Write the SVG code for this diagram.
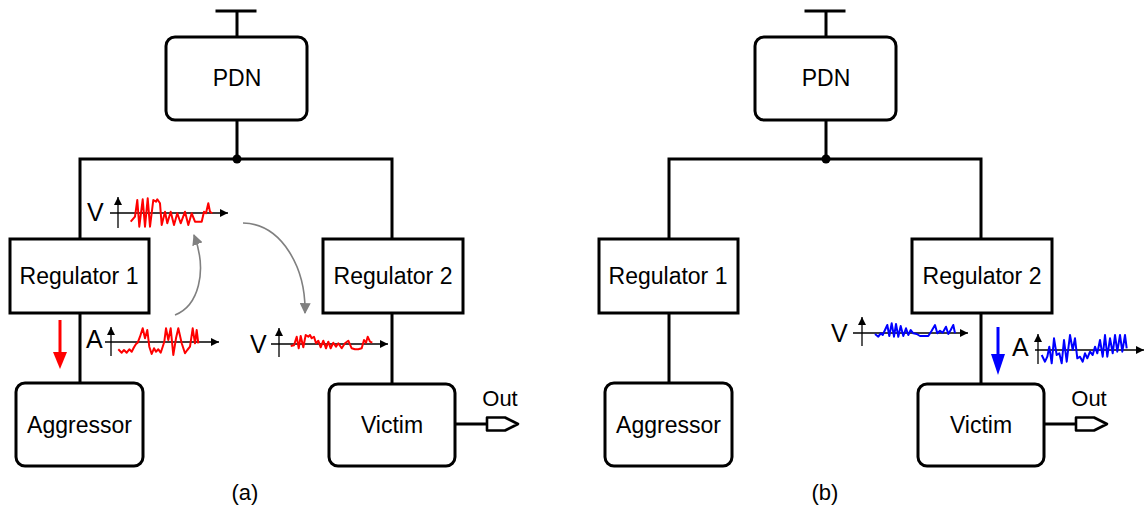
<svg xmlns="http://www.w3.org/2000/svg" width="1145" height="511" viewBox="0 0 1145 511">
  <style>
    .wire { fill: none; stroke: #000; stroke-width: 3; stroke-linecap: square; }
    .box { fill: #fff; stroke: #000; stroke-width: 3; }
    .lbl { font-family: "Liberation Sans", Arial, sans-serif; font-size: 23px; fill: #000; text-anchor: middle; }
    .sig { font-family: "Liberation Sans", Arial, sans-serif; font-size: 25px; fill: #000; }
    .cap { font-family: "Liberation Sans", Arial, sans-serif; font-size: 22px; fill: #000; text-anchor: middle; }
    .axis { fill: none; stroke: #000; stroke-width: 1.3; }
    .red { fill: none; stroke: #ff0000; stroke-width: 2; stroke-linejoin: round; }
    .blue { fill: none; stroke: #0000ff; stroke-width: 2; stroke-linejoin: round; }
    .flow { fill: none; stroke: #808080; stroke-width: 1.6; }
  </style>
  <defs>
    <marker id="axHead" viewBox="0 0 10 10" refX="10" refY="5" markerWidth="8" markerHeight="8" markerUnits="userSpaceOnUse" orient="auto">
      <path d="M0,0 L10,5 L0,10 Z" fill="#000"/>
    </marker>
    <marker id="flowHead" viewBox="0 0 10 10" refX="9" refY="5" markerWidth="11" markerHeight="11" markerUnits="userSpaceOnUse" orient="auto">
      <path d="M0,0 L10,5 L0,10 Z" fill="#808080"/>
    </marker>
  </defs>

  <!-- ===== Panel (a) ===== -->
  <g id="panel-a">
    <g id="a-connectors">
      <path class="wire" d="M217,11 H255 M237,11 V37"/>
      <path class="wire" d="M237,120 V159 M80,239 V159 H392 V239"/>
      <path class="wire" d="M80,313 V383 M392,313 V384"/>
      <path class="wire" d="M455,424 H487"/>
      <circle cx="237" cy="159" r="4.5" fill="#000"/>
    </g>
    <g id="a-pdn">
      <rect class="box" x="166" y="37" width="141" height="83" rx="9"/>
      <text class="lbl" x="237" y="86">PDN</text>
    </g>
    <g id="a-reg1">
      <rect class="box" x="10" y="239" width="139" height="74"/>
      <text class="lbl" x="79" y="284">Regulator 1</text>
    </g>
    <g id="a-reg2">
      <rect class="box" x="323" y="239" width="140" height="74"/>
      <text class="lbl" x="393" y="284">Regulator 2</text>
    </g>
    <g id="a-aggressor">
      <rect class="box" x="16" y="383" width="127" height="83" rx="9"/>
      <text class="lbl" x="79.5" y="433">Aggressor</text>
    </g>
    <g id="a-victim">
      <rect class="box" x="329" y="384" width="126" height="82" rx="9"/>
      <text class="lbl" x="392" y="433">Victim</text>
    </g>
    <g id="a-out">
      <polygon points="487,417.5 505,417.5 518,424 505,430.5 487,430.5" fill="#fff" stroke="#000" stroke-width="2.6" stroke-linejoin="round"/>
      <text class="cap" x="500" y="406">Out</text>
    </g>

    <!-- supply voltage seen at regulator 1 input -->
    <g id="a-v1">
      <text class="sig" x="87" y="221">V</text>
      <line class="axis" x1="118" y1="228" x2="118" y2="197" marker-end="url(#axHead)"/>
      <line class="axis" x1="110" y1="213" x2="228" y2="213" marker-end="url(#axHead)"/>
      <polyline class="red" points="130.7,221.7 135,216.7 137.3,200 139.3,226.7 142.7,199.3 145,226.7 147.7,198.3 150,226.7 153.3,200 156,201.7 157.3,199.3 160,203.3 161.7,225 165,211.7 167.3,223.3 170.7,211.7 174,225 177.3,213.3 180.7,223.3 185,211.7 188.3,225 191.7,213.3 195,221.7 201.7,221.7 204,211.7 206,213.3 208.3,203.3 210,211.7 212.3,213.3"/>
    </g>

    <!-- aggressor load current -->
    <g id="a-current">
      <text class="sig" x="86" y="348">A</text>
      <line class="axis" x1="111" y1="356" x2="111" y2="327" marker-end="url(#axHead)"/>
      <line class="axis" x1="105" y1="342" x2="219" y2="342" marker-end="url(#axHead)"/>
      <polyline class="red" points="118.3,349.3 121.7,352.7 124,350 126.7,352.7 129.3,349.3 131.7,351.7 134,347.3 136,344 137.7,342.7 140,336.7 142.7,328.3 145,338.3 147.3,330 149.3,346.7 151.7,354 154,348.3 156,351.7 158.3,349.3 160.7,352.7 162.7,346.7 164.3,341.7 166,328.3 168.3,340 170.7,328.3 173.3,355 176,338.3 178.3,328.3 181.7,343.3 185,353.3 187.3,350 190,346.7 192.7,328.3 195,343.3 196.7,330 198.3,343.3"/>
      <line x1="60" y1="320" x2="60" y2="354" stroke="#ff0000" stroke-width="3"/>
      <polygon points="53,352 67,352 60,369" fill="#ff0000"/>
    </g>

    <!-- coupled noise at regulator 2 output -->
    <g id="a-v2">
      <text class="sig" x="250" y="353">V</text>
      <line class="axis" x1="279" y1="357" x2="279" y2="328" marker-end="url(#axHead)"/>
      <line class="axis" x1="271" y1="344" x2="388" y2="344" marker-end="url(#axHead)"/>
      <polyline class="red" points="290.7,346 294,345.3 296.7,336.7 298.7,348.3 300.7,336 303.3,347.3 305.7,335 308.3,336.7 310,335 311.7,338.3 314,336.7 316,343.3 318.3,340.7 320.7,347.3 323.3,340.7 326,348.3 328.3,341.7 330.7,348.3 333.3,342.7 336,346.7 338.3,343.3 341.7,348.3 345,343.3 348.3,340.7 351.7,348.3 355,349.3 358.3,349.3 361.7,348.3 364,340 366,342.7 367.7,336.7 370,341.7 372.3,342.7"/>
    </g>

    <g id="a-coupling">
      <path class="flow" d="M175,315 C198,306 208,272 194,235" marker-end="url(#flowHead)"/>
      <path class="flow" d="M243,223 C282,224 306,268 305,313" marker-end="url(#flowHead)"/>
    </g>

    <text class="cap" x="245" y="500">(a)</text>
  </g>

  <!-- ===== Panel (b) ===== -->
  <g id="panel-b">
    <g transform="translate(589,0)">
      <g id="b-connectors">
        <path class="wire" d="M217,11 H255 M237,11 V37"/>
        <path class="wire" d="M237,120 V159 M80,239 V159 H392 V239"/>
        <path class="wire" d="M80,313 V383 M392,313 V384"/>
        <path class="wire" d="M455,424 H487"/>
        <circle cx="237" cy="159" r="4.5" fill="#000"/>
      </g>
      <g id="b-pdn">
        <rect class="box" x="166" y="37" width="141" height="83" rx="9"/>
        <text class="lbl" x="237" y="86">PDN</text>
      </g>
      <g id="b-reg1">
        <rect class="box" x="10" y="239" width="139" height="74"/>
        <text class="lbl" x="79" y="284">Regulator 1</text>
      </g>
      <g id="b-reg2">
        <rect class="box" x="323" y="239" width="140" height="74"/>
        <text class="lbl" x="393" y="284">Regulator 2</text>
      </g>
      <g id="b-aggressor">
        <rect class="box" x="16" y="383" width="127" height="83" rx="9"/>
        <text class="lbl" x="79.5" y="433">Aggressor</text>
      </g>
      <g id="b-victim">
        <rect class="box" x="329" y="384" width="126" height="82" rx="9"/>
        <text class="lbl" x="392" y="433">Victim</text>
      </g>
      <g id="b-out">
        <polygon points="487,417.5 505,417.5 518,424 505,430.5 487,430.5" fill="#fff" stroke="#000" stroke-width="2.6" stroke-linejoin="round"/>
        <text class="cap" x="500" y="406">Out</text>
      </g>
      <text class="cap" x="236" y="500">(b)</text>
    </g>

    <!-- regulator 2 output voltage -->
    <g id="b-v">
      <text class="sig" x="831" y="342">V</text>
      <line class="axis" x1="862" y1="346" x2="862" y2="317" marker-end="url(#axHead)"/>
      <line class="axis" x1="853" y1="333" x2="968" y2="333" marker-end="url(#axHead)"/>
      <polyline class="blue" points="875,334 878.3,336.7 880.7,333.3 882.7,335 885,330 887.3,325 889.3,336 891.7,323.3 894,336.7 896,324 898.3,336.7 900.7,326 903.3,336 906,328.3 908.3,335 910.7,330 913.3,333.3 916.7,334 920,336 928.3,336 931.7,330.7 935,325 937.3,333.3 940,330.7 942.7,332.7 946,326.7 948.3,334 950.7,330 953.3,325 955,333.3"/>
    </g>

    <!-- victim load current -->
    <g id="b-current">
      <text class="sig" x="1012" y="356">A</text>
      <line class="axis" x1="1038" y1="364" x2="1038" y2="334" marker-end="url(#axHead)"/>
      <line class="axis" x1="1035" y1="350" x2="1144" y2="350" marker-end="url(#axHead)"/>
      <polyline class="blue" points="1041.7,355 1045,361.7 1047.3,356.7 1049.3,346.7 1051.7,363.3 1054,338.3 1056.7,355 1059.3,353.3 1061.7,363.3 1064,340 1066.7,361.7 1070,335 1072.7,350 1075,338.3 1077.3,358.3 1080,356.7 1082.7,361.7 1085,353.3 1087.3,358.3 1090,351.7 1092.7,355 1095,346.7 1097.3,353.3 1100,340 1102.7,356.7 1105,335 1107.3,356.7 1110,338.3 1112.7,353.3 1115,335 1117.3,351.7 1120,335 1122.3,351.7 1125,335 1126.7,348.3"/>
      <line x1="998" y1="327" x2="998" y2="356" stroke="#0000ff" stroke-width="3"/>
      <polygon points="991,354 1005,354 998,375" fill="#0000ff"/>
    </g>
  </g>
</svg>
